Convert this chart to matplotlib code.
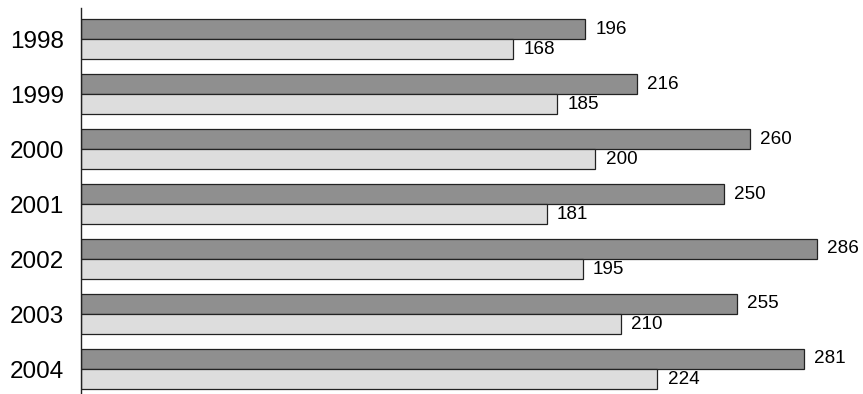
import numpy as np
import matplotlib.pyplot as plt

years = ["1998", "1999", "2000", "2001", "2002", "2003", "2004"]
series_a = [196, 216, 260, 250, 286, 255, 281]
series_b = [168, 185, 200, 181, 195, 210, 224]

plt.rcParams['font.family'] = ['Liberation Sans', 'DejaVu Sans']

fig = plt.figure(figsize=(8.63, 3.94), dpi=100)
ax = fig.add_axes([81 / 863, 0, 1 - 81 / 863, 386 / 394])

y = np.arange(len(years))
h = 0.364
ax.barh(y - h / 2, series_a, height=h, color='#8f8f8f', edgecolor='#222222', linewidth=0.9)
ax.barh(y + h / 2, series_b, height=h, color='#dddddd', edgecolor='#222222', linewidth=0.9)

for i in range(len(years)):
    ax.text(series_a[i] + 4, y[i] - h / 2, str(series_a[i]), va='center', ha='left', fontsize=13.6)
    ax.text(series_b[i] + 4, y[i] + h / 2, str(series_b[i]), va='center', ha='left', fontsize=13.6)

ax.set_xlim(0, 304)
ax.set_ylim(6.4545, -0.564)
ax.set_yticks(y)
ax.set_yticklabels(years, fontsize=17.5)
ax.tick_params(axis='y', length=0, pad=12.5)
ax.set_xticks([])
for s in ['top', 'right', 'bottom']:
    ax.spines[s].set_visible(False)
ax.spines['left'].set_linewidth(1.0)
ax.spines['left'].set_color('#222222')

fig.savefig('out.png', dpi=100)
